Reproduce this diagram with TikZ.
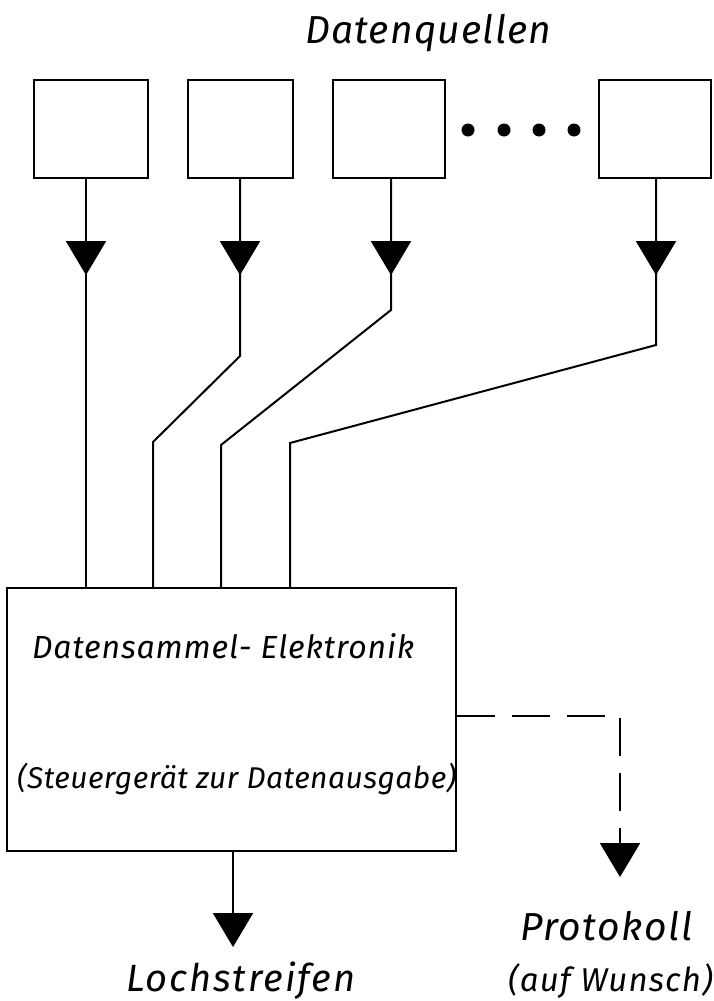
\documentclass[tikz,border=0pt]{standalone}
\usepackage{fontspec}
\setmainfont{Fira Sans}
\newfontfamily\lsQ[LetterSpace=3]{Fira Sans}
\newfontfamily\lsD[LetterSpace=2.7]{Fira Sans}
\newfontfamily\lsS[LetterSpace=1.5]{Fira Sans}
\newfontfamily\lsP[LetterSpace=4]{Fira Sans}
\newfontfamily\lsW[LetterSpace=3.5]{Fira Sans}
\newfontfamily\lsL[LetterSpace=5]{Fira Sans}
\usetikzlibrary{arrows.meta,decorations.markings}
\begin{document}
\begin{tikzpicture}[x=1pt,y=-1pt,
  ln/.style={line width=2pt},
  srcbox/.style={draw,line width=2.2pt,minimum height=98pt,inner sep=0pt},
  tip/.style={-{Triangle[width=40pt,length=34pt]}},
  tri/.style={postaction={decorate},decoration={markings,mark=at position 96pt with {\arrow{Triangle[width=40pt,length=34pt]}}}},
  lab/.style={inner sep=0pt,anchor=base west}]
\useasboundingbox (0,0) rectangle (713,1001);
% sources
\node[srcbox,minimum width=114pt] (b1) at (91,129) {};
\node[srcbox,minimum width=105pt] (b2) at (240.5,129) {};
\node[srcbox,minimum width=112pt] (b3) at (389,129) {};
\node[srcbox,minimum width=112pt] (b4) at (655,129) {};
\foreach \x in {468,504,539,574} \fill (\x,130) circle[radius=6.5pt];
% main box
\node[draw,line width=2.2pt,minimum width=449pt,minimum height=263pt,inner sep=0pt] (dse) at (231.5,719.5) {};
% x positions of lines
\coordinate (x1) at (86,0);
\coordinate (x2) at (240,0);
\coordinate (x3) at (391,0);
\coordinate (x4) at (656,0);
\coordinate (y1) at (86,0);
\coordinate (y2) at (153,0);
\coordinate (y3) at (221,0);
\coordinate (y4) at (290,0);
\draw[ln,tri] (b1.south -| x1) -- (dse.north -| y1);
\draw[ln,tri] (b2.south -| x2) -- (240,356) -- (153,442) -- (dse.north -| y2);
\draw[ln,tri] (b3.south -| x3) -- (391,310) -- (221,445) -- (dse.north -| y3);
\draw[ln,tri] (b4.south -| x4) -- (656,345) -- (290,443) -- (dse.north -| y4);
% outputs
\coordinate (lo) at (233,947);
\draw[ln,tip] (dse.south -| lo) -- (lo);
\coordinate (pk) at (620,716);
\coordinate (pe) at (620,877);
\draw[ln,tip,dash pattern=on 38pt off 17pt] (dse.east |- pk) -- (pk) -- (pe);
% texts
\node[lab,font=\lsQ\fontsize{39}{39}\selectfont\itshape] (tq) at (305,43) {Datenquellen};
\node[lab,font=\lsD\fontsize{32}{32}\selectfont\itshape] (t1) at (32,658) {Datensammel- Elektronik};
\node[lab,font=\lsS\fontsize{30}{30}\selectfont\itshape] (t2) at (17,788) {(Steuergerät zur Datenausgabe)};
\node[lab,font=\lsP\fontsize{39}{39}\selectfont\itshape] (t3) at (520,940) {Protokoll};
\node[lab,font=\lsW\fontsize{33}{33}\selectfont\itshape] (t4) at (508,991) {(auf Wunsch)};
\node[lab,font=\lsL\fontsize{38}{38}\selectfont\itshape] (t5) at (126,991) {Lochstreifen};
\end{tikzpicture}
\end{document}
